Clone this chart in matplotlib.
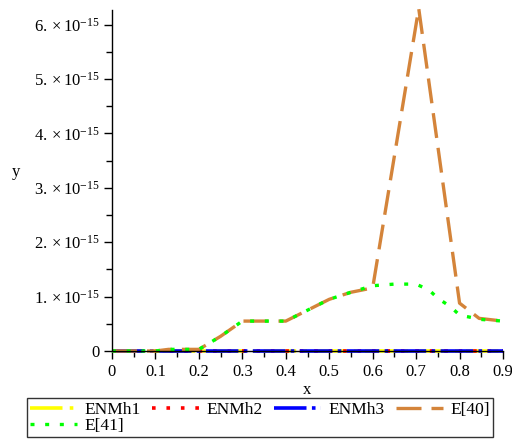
import matplotlib
matplotlib.use("Agg")
import matplotlib.pyplot as plt
from matplotlib.ticker import MultipleLocator, FixedLocator

plt.rcParams['font.family'] = ['Liberation Serif', 'DejaVu Serif']
plt.rcParams['mathtext.fontset'] = 'custom'
plt.rcParams['mathtext.rm'] = 'Liberation Serif'
plt.rcParams['mathtext.it'] = 'Liberation Serif:italic'

# data (y in units of 1e-15)
x_zero = [0, 0.9]
enmh1 = [0, 0]
enmh2 = [0, 0]
enmh3 = [0, 0]

x41 = [0, 0.05, 0.1, 0.13, 0.2, 0.225, 0.25, 0.3, 0.35, 0.4, 0.45, 0.5, 0.55,
       0.6, 0.65, 0.7, 0.73, 0.75, 0.78, 0.8, 0.85, 0.9]
e41 = [0, 0, 0, 0.03, 0.03, 0.15, 0.27, 0.55, 0.55, 0.55, 0.75, 0.95, 1.08,
       1.2, 1.23, 1.23, 1.12, 0.97, 0.81, 0.66, 0.58, 0.55]

x40 = [0, 0.05, 0.1, 0.13, 0.2, 0.225, 0.25, 0.3, 0.35, 0.4, 0.45, 0.5, 0.55,
       0.6, 0.706, 0.8, 0.845, 0.9]
e40 = [0, 0, 0, 0.03, 0.03, 0.15, 0.27, 0.55, 0.55, 0.55, 0.75, 0.95, 1.08,
       1.16, 6.3, 0.88, 0.6, 0.55]

yticks = [0, 1, 2, 3, 4, 5, 6]
ylabels = ['0'] + [r'$%d.\times10^{-15}$' % v for v in yticks[1:]]
xticks = [0, 0.1, 0.2, 0.3, 0.4, 0.5, 0.6, 0.7, 0.8, 0.9]
xlabels = ['0'] + ['%.1f' % v for v in xticks[1:]]

fig = plt.figure(figsize=(5.12, 4.45), dpi=100)
ax = fig.add_axes([112/512, 94/445, 391/512, 341/445])

lw = 2.6
l1, = ax.plot(x_zero, enmh1, color='#FFFF00', lw=lw, dashes=(9, 2, 1, 2), clip_on=False, label='ENMh1')
l2, = ax.plot(x_zero, enmh2, color='#FF0000', lw=lw, dashes=(1, 3), clip_on=False, label='ENMh2')
l3, = ax.plot(x_zero, enmh3, color='#0000FF', lw=lw, dashes=(9, 1.5, 1, 1.5), clip_on=False, label='ENMh3')
l4, = ax.plot(x40, e40, color='#D4843A', lw=2.4, dashes=(7.5, 3), clip_on=False, label='E[40]')
l5, = ax.plot(x41, e41, color='#00FF00', lw=2.4, dashes=(1.2, 3.2), clip_on=False, label='E[41]')

ax.set_xlim(0, 0.9)
ax.set_ylim(0, 6.27)
for s in ['top', 'right']:
    ax.spines[s].set_visible(False)
ax.spines['left'].set_linewidth(1)
ax.spines['bottom'].set_linewidth(1)

ax.xaxis.set_major_locator(FixedLocator(xticks))
ax.set_xticklabels(xlabels)
ax.xaxis.set_minor_locator(MultipleLocator(0.05))
ax.yaxis.set_major_locator(FixedLocator(yticks))
ax.set_yticklabels(ylabels)
ax.yaxis.set_minor_locator(MultipleLocator(0.5))
ax.tick_params(which='major', length=6, width=1, labelsize=12, pad=3)
ax.tick_params(which='minor', length=4, width=1)

ax.set_xlabel('x', fontsize=12, labelpad=2)
ax.set_ylabel('y', fontsize=12, rotation=0)
ax.yaxis.set_label_coords(-0.245, 0.5)

# row-major order for 4 columns
handles = [l1, l5, l2, l3, l4]
leg = fig.legend(handles, [h.get_label() for h in handles], ncol=4,
                 loc='upper left', bbox_to_anchor=(27/512, 1 - 398/445, 466/512, 0),
                 mode='expand', fontsize=12.5, frameon=True, fancybox=False,
                 edgecolor='black', handlelength=2.7, handletextpad=0.4,
                 borderaxespad=0, borderpad=0.2, labelspacing=0.0, columnspacing=0.6)
leg.get_frame().set_linewidth(1)

fig.savefig('out.png', dpi=100)
